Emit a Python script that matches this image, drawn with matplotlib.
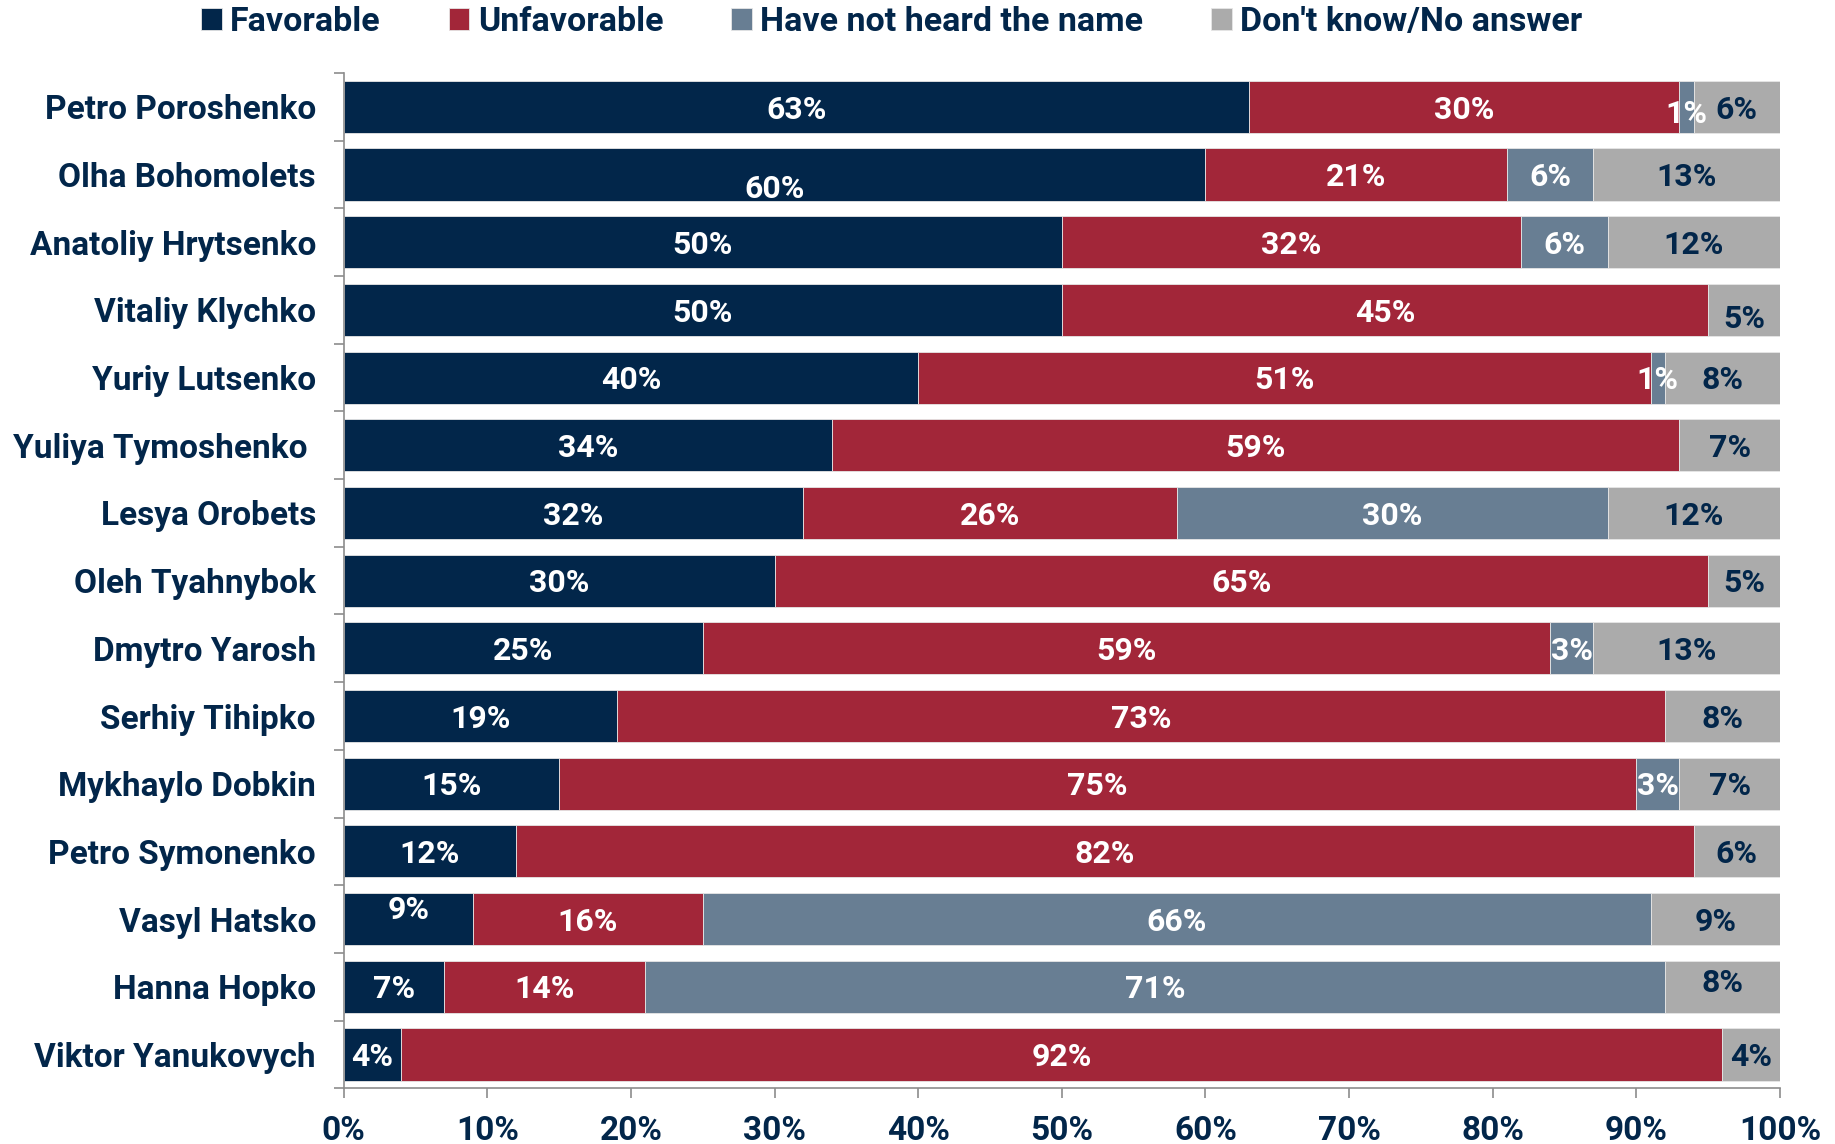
import matplotlib.pyplot as plt
import numpy as np

# data
names = ["Petro Poroshenko", "Olha Bohomolets", "Anatoliy Hrytsenko", "Vitaliy Klychko",
         "Yuriy Lutsenko", "Yuliya Tymoshenko ", "Lesya Orobets", "Oleh Tyahnybok",
         "Dmytro Yarosh", "Serhiy Tihipko", "Mykhaylo Dobkin", "Petro Symonenko",
         "Vasyl Hatsko", "Hanna Hopko", "Viktor Yanukovych"]
favorable = [63, 60, 50, 50, 40, 34, 32, 30, 25, 19, 15, 12, 9, 7, 4]
unfavorable = [30, 21, 32, 45, 51, 59, 26, 65, 59, 73, 75, 82, 16, 14, 92]
not_heard = [1, 6, 6, 0, 1, 0, 30, 0, 3, 0, 3, 0, 66, 71, 0]
dont_know = [6, 13, 12, 5, 8, 7, 12, 5, 13, 8, 7, 6, 9, 8, 4]
series_names = ["Favorable", "Unfavorable", "Have not heard the name", "Don't know/No answer"]
xticks = [0, 10, 20, 30, 40, 50, 60, 70, 80, 90, 100]

# style
navy = "#02264A"
colors = ["#02264A", "#A22639", "#687E93", "#ABABAB"]
text_colors = ["white", "white", "white", navy]
spine_col = "#8C8C8C"
plt.rcParams["font.family"] = ["Roboto", "DejaVu Sans"]
plt.rcParams["font.weight"] = "bold"

# small vertical nudges of a few value labels (row, series) -> rows
nudge = {(1, 0): 0.17, (0, 2): 0.07, (3, 3): 0.09, (12, 0): -0.17, (13, 3): -0.1}

fig = plt.figure(figsize=(18.35, 11.44), dpi=100)
ax = fig.add_axes([0.1873, 0.0487, 0.7827, 0.8875])

y = np.arange(len(names))
left = np.zeros(len(names))
for k, vals in enumerate([favorable, unfavorable, not_heard, dont_know]):
    vals = np.array(vals, dtype=float)
    ax.barh(y, vals, left=left, height=0.77, color=colors[k], label=series_names[k],
            edgecolor="#E6E6E6", linewidth=0.6)
    for i, v in enumerate(vals):
        if v > 0:
            ax.text(left[i] + v / 2, y[i] + 0.04 + nudge.get((i, k), 0), f"{int(v)}%",
                    ha="center", va="center", color=text_colors[k],
                    fontsize=23, fontweight="bold")
    left += vals

ax.set_xlim(0, 100)
ax.set_ylim(len(names) - 0.5, -0.5)
ax.set_yticks(y)
ax.set_yticklabels(names, fontsize=24, color=navy, fontweight="bold")
ax.set_yticks(np.arange(len(names) + 1) - 0.5, minor=True)
ax.tick_params(axis="y", which="major", length=0, pad=20)
ax.tick_params(axis="y", which="minor", length=7, color=spine_col, width=1.2)
ax.set_xticks(xticks)
ax.set_xticklabels([f"{t}%" for t in xticks], fontsize=24, color=navy, fontweight="bold")
ax.tick_params(axis="x", length=7, color=spine_col, width=1.2, pad=12)
for s in ["top", "right"]:
    ax.spines[s].set_visible(False)
for s in ["left", "bottom"]:
    ax.spines[s].set_color(spine_col)
    ax.spines[s].set_linewidth(1.2)

leg = fig.legend(loc="center", bbox_to_anchor=(0.486, 0.981), ncol=4, frameon=False,
                 fontsize=24.5, handlelength=0.6, handleheight=0.6, handletextpad=0.25,
                 columnspacing=2.0, borderaxespad=0)
for t in leg.get_texts():
    t.set_color(navy)

fig.savefig("out.png", dpi=100)
